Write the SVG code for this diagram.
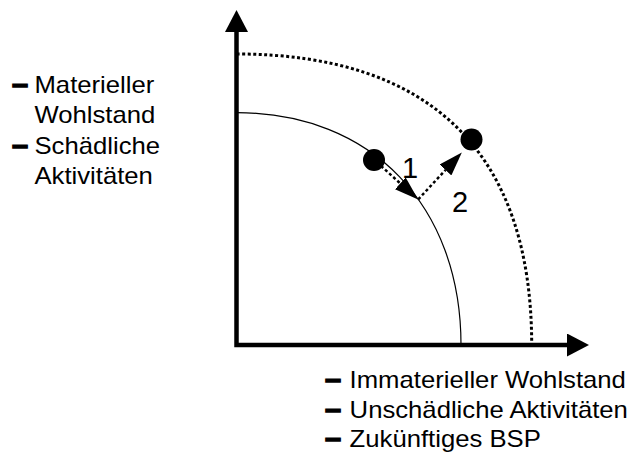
<svg xmlns="http://www.w3.org/2000/svg" width="633" height="457" viewBox="0 0 633 457">
<style>
.t{font-family:"Liberation Sans",Arial,sans-serif;font-size:24px;fill:#000}
.b{font-family:"Liberation Sans",Arial,sans-serif;font-size:27px;font-weight:bold;fill:#000;stroke:#000;stroke-width:1.4}
.n{font-family:"Liberation Sans",Arial,sans-serif;font-size:29px;fill:#000;text-anchor:middle}
.dot{stroke:#000;stroke-width:2.5;stroke-dasharray:3 2.5;fill:none}
</style>
<defs>
<marker id="axh" markerUnits="userSpaceOnUse" markerWidth="22" markerHeight="23" refX="0" refY="11.5" orient="auto-start-reverse" viewBox="0 0 22 23">
<path d="M0,0 L22,11.5 L0,23 z" fill="#000"/>
</marker>
<marker id="ah" markerUnits="userSpaceOnUse" markerWidth="24" markerHeight="16" refX="0" refY="8" orient="auto" viewBox="0 0 24 16">
<path d="M0,0 L24,8 L0,16 z" fill="#000"/>
</marker>
</defs>
<g id="axes">
<path d="M236.5,32 L236.5,345 L567,345" fill="none" stroke="#000" stroke-width="4.5" marker-start="url(#axh)" marker-end="url(#axh)"/>
</g>
<g id="curves">
<path id="inner" d="M236.5,112.7 C371.5,112.7 461,205.8 461,345" fill="none" stroke="#000" stroke-width="1.2"/>
<path id="outer" d="M236.5,54 C431,54 531.7,153 531.7,345" fill="none" stroke="#000" stroke-width="3" stroke-dasharray="3 2.5"/>
</g>
<g id="point1"><circle cx="374" cy="160" r="11" fill="#000"/></g>
<g id="point2"><circle cx="471.5" cy="139.5" r="11" fill="#000"/></g>
<g id="connectors">
<line class="dot" x1="381" y1="166" x2="400.3" y2="183.4" marker-end="url(#ah)"/>
<line class="dot" x1="418.3" y1="199.3" x2="445.5" y2="170" marker-end="url(#ah)"/>
</g>
<g id="labels">
<text class="n" x="410" y="178">1</text>
<text class="n" x="460" y="211.5">2</text>
</g>
<g id="legend-left" transform="translate(12,0) scale(1.07,1) translate(-12,0)">
<text class="b" x="12" y="93">–</text>
<text class="t" x="33" y="93">Materieller</text>
<text class="t" x="33" y="123">Wohlstand</text>
<text class="b" x="12" y="154">–</text>
<text class="t" x="33" y="154">Schädliche</text>
<text class="t" x="33" y="184">Aktivitäten</text>
</g>
<g id="legend-bottom" transform="translate(325,0) scale(1.07,1) translate(-325,0)">
<text class="b" x="325" y="388">–</text>
<text class="t" x="348" y="388">Immaterieller Wohlstand</text>
<text class="b" x="325" y="418">–</text>
<text class="t" x="348" y="418">Unschädliche Aktivitäten</text>
<text class="b" x="325" y="447">–</text>
<text class="t" x="348" y="447">Zukünftiges BSP</text>
</g>
</svg>
